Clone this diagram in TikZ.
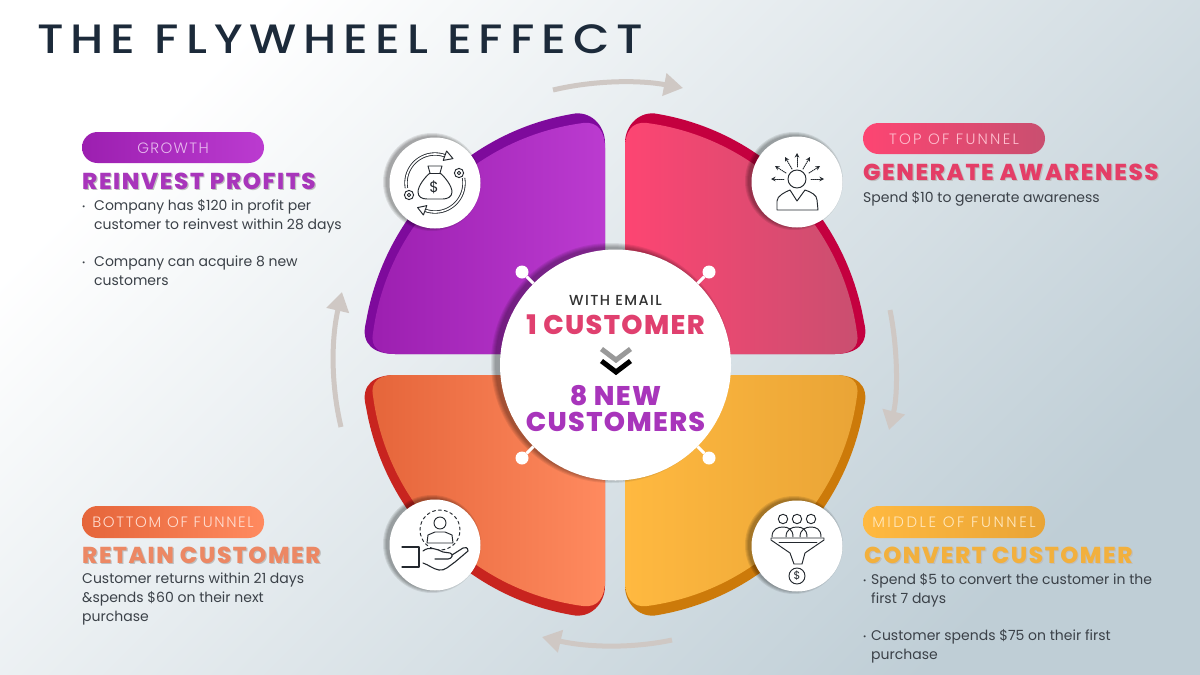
\documentclass[tikz,border=0pt]{standalone}
\usepackage{fontspec}
\usetikzlibrary{arrows.meta}
\setmainfont{Poppins}
\newfontfamily\titlef{Poppins Medium}[LetterSpace=17,FakeStretch=1.15]
\newfontfamily\heavyf{Poppins ExtraBold}[LetterSpace=7]
\newfontfamily\hubf{Poppins ExtraBold}[LetterSpace=5]
\newfontfamily\pillf{Poppins Light}
\newfontfamily\withf{Poppins Medium}[LetterSpace=10]
\definecolor{bodyc}{HTML}{3B4148}
\definecolor{inkc}{HTML}{23282E}
\definecolor{titlec}{HTML}{1C2A3A}
\definecolor{arrc}{HTML}{CFC8C4}
\definecolor{bgend}{HTML}{BFCED6}
\definecolor{hubpink}{HTML}{E0406F}
\definecolor{purD}{HTML}{7E0A9C}\definecolor{purL}{HTML}{9C1FB0}\definecolor{purR}{HTML}{BB3BD0}
\definecolor{pnkD}{HTML}{C4003F}\definecolor{pnkL}{HTML}{FD4572}\definecolor{pnkR}{HTML}{C94F70}
\definecolor{orgD}{HTML}{C8241F}\definecolor{orgL}{HTML}{E5653A}\definecolor{orgR}{HTML}{FF8A5F}
\definecolor{ylwD}{HTML}{CC7A0A}\definecolor{ylwL}{HTML}{FFB940}\definecolor{ylwR}{HTML}{E9A436}
\newcommand\qdark{(605,354) -- (605,143) .. controls (605,125) and (590,110) .. (572,114) .. controls (465.7,132.2) and (384.2,215.8) .. (366,322) .. controls (360,345) and (375,354) .. (395,354) -- cycle}
\newcommand\qface{(605,354) -- (605,148) .. controls (605,132) and (598,121) .. (583,123) .. controls (473.6,137.5) and (387.5,223.6) .. (373,333) .. controls (370,348) and (380,354) .. (395,354) -- cycle}
\newcommand\headtxt[2]{\rlap{\raisebox{-1.3pt}{\hspace{1.2pt}\textcolor{black!25}{#2}}}\textcolor{#1}{#2}}
\newcommand\bul[1]{\makebox[#1pt][l]{\raisebox{1pt}{\fontsize{8}{8}\selectfont •}}}
\newcommand\iconshadow[2]{\foreach \r in {49,48,47,46}{\fill[black,opacity=.09] (#1-3,#2-1) circle (\r pt);}}
\newcommand\plsp[1]{\addfontfeatures{LetterSpace=#1}}
\begin{document}
\begin{tikzpicture}[x=1pt,y=-1pt,
  body/.style={anchor=north west,inner sep=0pt,align=left,text=bodyc,font=\fontsize{14}{19}\selectfont},
  head/.style={anchor=west,inner sep=0pt,font=\heavyf\fontsize{23}{26}\selectfont},
  hubtxt/.style={inner sep=0pt,font=\hubf\fontsize{27}{29}\selectfont},
  pill/.style={rounded corners=15.5pt,draw=none},
  pilltxt/.style={inner sep=0pt,font=\pillf\fontsize{15}{17}\selectfont},
  icon/.style={circle,fill=white,inner sep=0pt,minimum size=91pt},
  knob/.style={circle,fill=white,inner sep=0pt,minimum size=13pt},
  ink/.style={draw=inkc,line width=.95pt,line join=round,line cap=round},
  band/.style={draw=inkc,double=white,double distance=1.6pt,line width=.85pt},
  bigarrow/.style={draw=arrc,line width=5pt,-{Triangle[length=19pt,width=22pt]}}]
% background
\shade[top color=white,bottom color=bgend,shading angle=45] (0,0) rectangle (1200,675);
% title
\node[anchor=west,inner sep=0pt,text=titlec,font=\titlef\fontsize{41}{44}\selectfont] (title) at (37,39) {THE FLYWHEEL EFFECT};
% cycle arrows
\coordinate (a1) at (553,90); \coordinate (a2) at (683,88);
\coordinate (b1) at (890,310); \coordinate (b2) at (889,430);
\coordinate (c1) at (672,640); \coordinate (c2) at (542,637);
\coordinate (d1) at (341,427); \coordinate (d2) at (342,292);
\draw[bigarrow] (a1) .. controls (595,80) and (640,80) .. (a2);
\draw[bigarrow] (b1) .. controls (898,350) and (898,395) .. (b2);
\draw[bigarrow] (c1) .. controls (635,648) and (590,648) .. (c2);
\draw[bigarrow] (d1) .. controls (331,385) and (331,340) .. (d2);
% quadrants
\fill[purD] \qdark; \shade[left color=purL,right color=purR] \qface;
\begin{scope}[shift={(1230,0)},xscale=-1]
\fill[pnkD] \qdark; \shade[left color=pnkL,right color=pnkR] \qface;
\end{scope}
\begin{scope}[shift={(0,729)},yscale=-1]
\fill[orgD] \qdark; \shade[left color=orgL,right color=orgR] \qface;
\end{scope}
\begin{scope}[shift={(1230,729)},xscale=-1,yscale=-1]
\fill[ylwD] \qdark; \shade[left color=ylwL,right color=ylwR] \qface;
\end{scope}
% centre
\foreach \r in {120,119,118,117,116}{\fill[black,opacity=.075] (611,363) circle (\r pt);}
\node[circle,fill=white,inner sep=0pt,minimum size=231pt] (hub) at (615.5,365) {};
\node[knob] (k1) at (522,272) {}; \node[knob] (k2) at (709,272) {};
\node[knob] (k3) at (522,458) {}; \node[knob] (k4) at (709,458) {};
\foreach \k in {k1,k2,k3,k4}{\draw[white,line width=3pt] (\k) -- (hub);}
\node[inner sep=0pt,text=black!80,font=\withf\fontsize{14.5}{16}\selectfont] (t1) at (615.5,300.5) {WITH EMAIL};
\node[hubtxt,text=hubpink] (t2) at (615.5,324.5) {1 CUSTOMER};
\node[hubtxt,text=purR!90!black] (t3) at (615.5,396) {8 NEW};
\node[hubtxt,text=purR!90!black] (t4) at (615.5,422) {CUSTOMERS};
\draw[black!40,line width=5pt] (601.5,349) -- (616,360) -- (630.5,349);
\draw[black,line width=5pt] (601.5,361) -- (616,372) -- (630.5,361);
% icon discs
\iconshadow{435}{183}\node[icon] (i1) at (435,183) {};
\iconshadow{797}{182}\node[icon] (i2) at (797,182) {};
\iconshadow{435}{545}\node[icon] (i3) at (435,545) {};
\iconshadow{797}{546}\node[icon] (i4) at (797,546) {};
% icon 1: money bag
\begin{scope}[shift={(i1.center)}]
\draw[ink] (-7,-17) -- (7,-17) -- (5,-10) .. controls (10,-6) and (17,3) .. (17,9) .. controls (17,14) and (12,16) .. (8,16) -- (-8,16) .. controls (-13,16) and (-17,14) .. (-17,9) .. controls (-17,3) and (-10,-6) .. (-5,-10) -- cycle;
\draw[ink] (-5,-10) -- (5,-10);
\node[inner sep=0pt,text=inkc,font=\fontsize{15}{15}\selectfont] (d1s) at (-1,4) {\$};
\draw[band] plot[domain=170:290,samples=40] ({29*cos(\x)},{29*sin(\x)});
\draw[ink,fill=white] (18,-24.4) -- (11.6,-32) -- (8.2,-22.6) -- cycle;
\draw[band] plot[domain=-10:110,samples=40] ({29*cos(\x)},{29*sin(\x)});
\draw[ink,fill=white] (-17.4,24.6) -- (-8.2,22.6) -- (-11.6,32) -- cycle;
\draw[ink,fill=white] (-26,12) circle (4.6pt); \draw[ink] (-26,12) circle (1.8pt);
\draw[ink,fill=white] (24,-10) circle (4.6pt); \draw[ink] (24,-10) circle (1.8pt);
\end{scope}
% icon 2: person with arrows
\begin{scope}[shift={(i2.center)}]
\draw[ink] (0,-3) circle (9pt);
\draw[ink] (-20,28) -- (-20,19) .. controls (-20,14) and (-12,10) .. (-7,8) -- (0,19) -- (8,8) .. controls (14,10) and (20,13) .. (20,18) -- (21,28) -- cycle;
\foreach \xa/\ya/\xb/\yb in {-13/-3/-26/-3, -11/-9/-22/-16, -5/-13/-12/-25, 0/-15/0/-29, 6/-13/13/-25, 12/-9/23/-16, 14/-3/27/-3}{
  \draw[ink,densely dotted,-{Stealth[length=4.5pt,width=4.5pt]}] (\xa,\ya) -- (\xb,\yb);}
\end{scope}
% icon 3: hand with customer
\begin{scope}[shift={(i3.center)}]
\draw[ink,dashed] (5,-15) circle (20pt);
\draw[ink,fill=white] (5,-22) circle (6pt);
\draw[ink,fill=white] (-8,-2) -- (-7,-10) -- (0,-13) -- (10,-13) -- (17,-10) -- (18,-2) -- cycle;
\draw[ink,line width=1.1pt] (-33,2) -- (-16,2) -- (-16,22) -- (-33,22);
\draw[ink,line width=1.1pt,fill=white] (-12,6) .. controls (-6,1) and (2,4) .. (8,7) -- (15,8) .. controls (19,9) and (17,14) .. (13,14) -- (0,14);
\draw[ink,line width=1.1pt] (-12,18) .. controls (-6,20) and (-2,24) .. (4,25) .. controls (10,26) and (14,21) .. (20,17) -- (33,6) .. controls (33,2) and (30,2) .. (28,3) -- (17,10);
\end{scope}
% icon 4: funnel
\begin{scope}[shift={(i4.center)}]
\foreach \x in {-14,0,14}{
  \draw[ink] (\x,-27) circle (4.7pt);
  \draw[ink] (\x-11,-9) .. controls (\x-11,-17) and (\x-5,-19) .. (\x,-19) .. controls (\x+5,-19) and (\x+10,-17) .. (\x+10,-9);}
\draw[ink,fill=white] (-26,-8) -- (27,-8) -- (27,-6) -- (8,7) -- (5,18) -- (-3,18) -- (-7,7) -- (-26,-6) -- cycle;
\draw[ink] (-18,-4) -- (20,-4);
\draw[ink] (0,30) circle (8pt);
\node[inner sep=0pt,text=inkc,font=\fontsize{11}{11}\selectfont] (d4s) at (0,30) {\$};
\end{scope}
% growth
\shade[pill,left color=purL,right color=purR] (82,132) rectangle (264,163);
\node[pilltxt,text=white!65!purR] (g0) at (173,148) {\plsp{9}GROWTH};
\node[head] (g1) at (82,181.5) {\headtxt{purR!90!black}{REINVEST PROFITS}};
\node[body] (g2) at (82,199) {\bul{12}Company has \$120 in profit per\\\hspace{12pt}customer to reinvest within 28 days};
\node[body] (g3) at (82,256) {\bul{12}Company can acquire 8 new\\\hspace{12pt}customers};
% top
\shade[pill,left color=pnkL,right color=pnkR] (863,123) rectangle (1045,154);
\node[pilltxt,text=white!65!pnkL] (p0) at (954,139) {\plsp{15}TOP OF FUNNEL};
\node[head] (p1) at (863,172.5) {\headtxt{pnkL!90!black}{GENERATE AWARENESS}};
\node[body] (p2) at (863,191) {Spend \$10 to generate awareness};
% bottom
\shade[pill,left color=orgL,right color=orgR] (82,506) rectangle (264,538);
\node[pilltxt,text=white!70!orgR] (o0) at (173,522) {\plsp{11}BOTTOM OF FUNNEL};
\node[head] (o1) at (82,555.5) {\headtxt{orgR!85!gray}{RETAIN CUSTOMER}};
\node[body] (o2) at (82,573) {Customer returns within 21 days\\\&spends \$60 on their next\\purchase};
% middle
\shade[pill,left color=ylwL,right color=ylwR] (863,506) rectangle (1045,538);
\node[pilltxt,text=white!65!ylwL] (y0) at (954,522) {\plsp{17}MIDDLE OF FUNNEL};
\node[head] (y1) at (864,555.5) {\headtxt{ylwL!95!black}{CONVERT CUSTOMER}};
\node[body] (y2) at (863,573) {\bul{8}Spend \$5 to convert the customer in the\\\hspace{8pt}first 7 days};
\node[body] (y3) at (863,629) {\bul{8}Customer spends \$75 on their first\\\hspace{8pt}purchase};
\end{tikzpicture}
\end{document}
